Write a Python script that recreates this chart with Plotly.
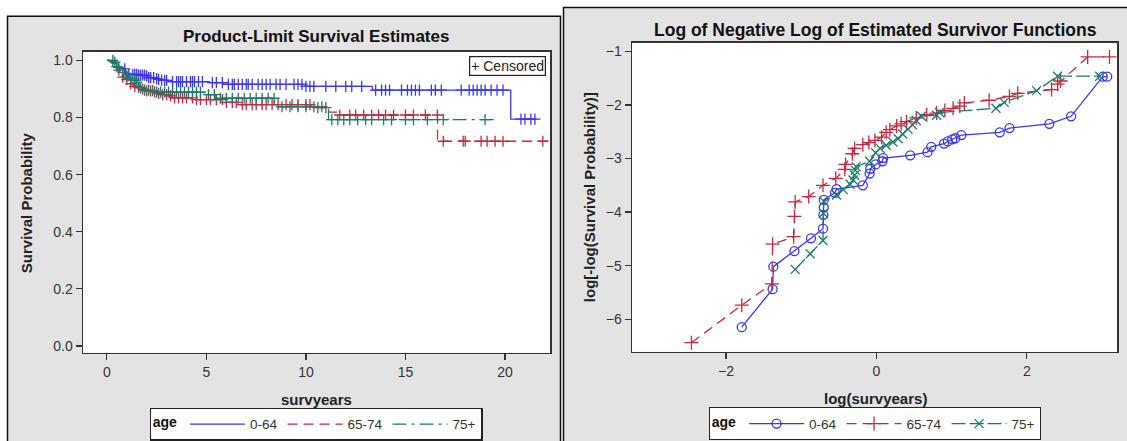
import numpy as np
import plotly.graph_objects as go

W, H = 1127, 441

# ---------------- data ----------------
groups = ["0-64", "65-74", "75+"]

# log(survyears) and log[-log(S)] at the event times, per age group
log_t_064 = [-1.79, -1.38, -1.37, -1.09, -0.87, -0.71, -0.705, -0.70, -0.70, -0.55, -0.53,
             -0.18, -0.09, -0.08, -0.01, 0.08, 0.09, 0.45, 0.68, 0.73, 0.90, 0.95, 1.01,
             1.05, 1.13, 1.64, 1.77, 2.30, 2.59, 3.01, 3.07]
loglog_064 = [-6.15, -5.44, -5.02, -4.73, -4.49, -4.31, -4.05, -3.91, -3.77, -3.64, -3.57,
              -3.50, -3.28, -3.19, -3.11, -3.05, -2.99, -2.94, -2.88, -2.78, -2.72, -2.68, -2.64,
              -2.62, -2.56, -2.51, -2.43, -2.35, -2.21, -1.47, -1.47]

log_t_6574 = [-2.46, -1.79, -1.39, -1.38, -1.10, -1.09, -1.08, -0.90, -0.71, -0.54, -0.42,
              -0.41, -0.32, -0.29, -0.18, -0.10, -0.02, 0.07, 0.13, 0.18, 0.27, 0.33, 0.40,
              0.53, 0.67, 0.80, 0.91, 1.02, 1.11, 1.17, 1.50, 1.77, 1.88, 2.33, 2.41, 2.45,
              2.81, 3.10]
loglog_6574 = [-6.44, -5.74, -5.34, -4.60, -4.46, -4.08, -3.81, -3.71, -3.50, -3.37, -3.20,
               -3.11, -2.91, -2.81, -2.74, -2.70, -2.66, -2.60, -2.51, -2.46, -2.39, -2.35, -2.31,
               -2.24, -2.18, -2.15, -2.10, -2.06, -2.02, -1.96, -1.91, -1.84, -1.78, -1.71, -1.61, -1.55,
               -1.10, -1.10]

log_t_75 = [-1.08, -0.88, -0.71, -0.705, -0.70, -0.53, -0.44, -0.35, -0.31, -0.29, -0.28,
            -0.27, -0.09, -0.01, 0.05, 0.13, 0.22, 0.29, 0.35, 0.42, 0.48, 0.53, 0.60,
            0.80, 0.84, 1.59, 1.70, 2.13, 2.41, 2.97]
loglog_75 = [-5.07, -4.78, -4.53, -4.02, -3.80, -3.68, -3.58, -3.48, -3.40, -3.31, -3.22,
             -3.15, -3.05, -2.89, -2.81, -2.75, -2.69, -2.63, -2.54, -2.45, -2.37, -2.29, -2.21,
             -2.19, -2.14, -2.06, -1.95, -1.73, -1.46, -1.46]

# censored survival times (years), per age group
cens_064 = [0.9, 1.1, 1.3, 1.4, 1.5, 1.6, 1.7, 1.8, 1.9, 2.0, 2.1, 2.2, 2.35, 2.5, 2.6, 2.75,
            2.9, 3.0, 3.3, 3.5, 3.6, 3.7, 3.8, 4.0, 4.2, 4.3, 4.4, 4.6, 4.8, 5.3, 5.5, 5.8,
            6.1, 6.3, 6.4, 6.6, 6.8, 7.0, 7.1, 7.3, 7.6, 7.8, 8.0, 8.2, 8.5, 8.7, 9.0, 9.4,
            9.6, 9.8, 10.0, 10.2, 10.4, 11.0, 11.5, 12.0, 12.3, 12.8, 13.5, 13.8, 14.0, 14.2,
            14.8, 15.1, 15.3, 15.5, 15.7, 16.3, 16.5, 16.8, 17.8, 18.2, 18.4, 18.6, 18.8, 19.0,
            19.3, 19.6, 19.9, 20.8, 21.0, 21.3, 21.5]
cens_6574 = [0.6, 0.8, 1.0, 1.2, 1.4, 1.6, 1.8, 2.0, 2.2, 2.4, 2.6, 2.8, 3.0, 3.2, 3.4, 3.6,
             3.8, 4.0, 4.3, 4.5, 4.7, 5.0, 5.2, 5.5, 5.8, 6.0, 6.3, 6.5, 6.8, 7.0, 7.3, 7.5,
             7.8, 8.0, 8.3, 8.6, 9.0, 9.3, 9.6, 10.0, 10.2, 10.6, 11.0, 11.7, 12.2, 12.5, 12.9,
             13.3, 13.65, 14.0, 14.4, 15.0, 15.4, 16.0, 16.6, 16.9, 17.9, 18.0, 18.8, 19.1,
             19.5, 19.9, 21.9]
cens_75 = [0.3, 0.4, 0.5, 0.6, 0.8, 1.0, 1.2, 1.4, 1.5, 1.7, 1.9, 2.1, 2.3, 2.5, 2.7, 2.9,
           3.1, 3.3, 3.5, 3.7, 3.9, 4.1, 4.3, 4.5, 4.7, 5.1, 5.4, 5.7, 6.0, 6.3, 6.6, 6.9,
           7.2, 7.5, 7.8, 8.1, 8.4, 8.8, 9.2, 9.6, 10.0, 10.4, 10.8, 11.3, 11.6, 11.9, 12.2,
           12.6, 13.0, 13.3, 13.9, 14.3, 15.0, 15.4, 16.1, 16.9, 19.0]

x1_ticks = [0, 5, 10, 15, 20]
y1_ticks = [0.0, 0.2, 0.4, 0.6, 0.8, 1.0]
x2_ticks = [-2, 0, 2]
y2_ticks = [-6, -5, -4, -3, -2, -1]

# ---------------- styling ----------------
FONT = "Liberation Sans, Arial, sans-serif"
colors = ["#3838ec", "#c42a40", "#1b7a68"]
left_dash = ["solid", "10px,6px", "14px,5px,3px,5px"]
right_dash = ["solid", "10px,6px", "14px,4px"]
right_sym = ["circle-open", "cross-thin-open", "x-thin-open"]
right_size = [9, 10, 9]

series_lt = [log_t_064, log_t_6574, log_t_75]
series_ll = [loglog_064, loglog_6574, loglog_75]
series_c = [cens_064, cens_6574, cens_75]

fig = go.Figure()

for i, g in enumerate(groups):
    lt = np.array(series_lt[i])
    ll = np.array(series_ll[i])
    t_ev = np.exp(lt)
    s_ev = np.exp(-np.exp(ll))
    tx = np.concatenate([[0.0], t_ev])
    sy = np.concatenate([[1.0], s_ev])
    # KM step curve
    fig.add_trace(go.Scatter(
        x=tx, y=sy, mode="lines", line=dict(color=colors[i], width=1.3, dash=left_dash[i], shape="hv"),
        name=g, legend="legend", xaxis="x", yaxis="y", hoverinfo="skip"))
    # censor marks
    c = np.array(series_c[i])
    idx = np.searchsorted(tx, c, side="right") - 1
    fig.add_trace(go.Scatter(
        x=c, y=sy[idx], mode="markers",
        marker=dict(symbol="cross-thin-open", size=8, color=colors[i],
                    line=dict(color=colors[i], width=1.3)),
        showlegend=False, xaxis="x", yaxis="y", hoverinfo="skip"))

for i, g in enumerate(groups):
    fig.add_trace(go.Scatter(
        x=series_lt[i], y=series_ll[i], mode="lines+markers",
        line=dict(color=colors[i], width=1.3, dash=right_dash[i]),
        marker=dict(symbol=right_sym[i], size=right_size[i], color=colors[i],
                    line=dict(color=colors[i], width=1.3)),
        name=g, legend="legend2", xaxis="x2", yaxis="y2", hoverinfo="skip"))

def px(v):
    return v / W

def py(v):
    return 1 - v / H

axis_common = dict(showline=True, mirror=True, linecolor="#333333", linewidth=1.5,
                   ticks="outside", ticklen=6, tickwidth=1.2, tickcolor="#333333",
                   showgrid=False, zeroline=False,
                   tickfont=dict(family=FONT, size=14, color="#333333"))

leg_common = dict(orientation="h", xanchor="center", yanchor="middle",
                  bgcolor="white", bordercolor="#222222", borderwidth=1.2,
                  font=dict(family=FONT, size=13.5, color="#333333"),
                  title=dict(text="<b>age</b>", side="left",
                             font=dict(family=FONT, size=14, color="#111111")),
                  itemwidth=55, tracegroupgap=0, itemclick=False)

fig.update_layout(
    width=W, height=H,
    margin=dict(l=0, r=0, t=0, b=0),
    paper_bgcolor="#e3e3e3",
    plot_bgcolor="white",
    font=dict(family=FONT, color="#222222"),
    xaxis=dict(domain=[px(83), px(550)], range=[-1.2, 22.26], tickvals=x1_ticks,
               anchor="y", **axis_common),
    yaxis=dict(domain=[py(356), py(52)], range=[-0.024, 1.031], tickvals=y1_ticks,
               tickformat=".1f", anchor="x", **axis_common),
    xaxis2=dict(domain=[px(632), px(1117)], range=[-3.25, 3.2], tickvals=x2_ticks,
                anchor="y2", **axis_common),
    yaxis2=dict(domain=[py(355), py(43)], range=[-6.61, -0.833], tickvals=y2_ticks,
                anchor="x2", **axis_common),
    legend=dict(x=px(316), y=py(428), **leg_common),
    legend2=dict(x=px(875), y=py(427.5), **leg_common),
    showlegend=True,
)

# white gaps around the two panels, and the panel borders
shapes = [
    dict(type="rect", xref="paper", yref="paper", x0=-0.1, x1=px(7), y0=-0.1, y1=1.1,
         fillcolor="white", line=dict(width=0), layer="below"),
    dict(type="rect", xref="paper", yref="paper", x0=-0.1, x1=px(563), y0=py(16), y1=1.1,
         fillcolor="white", line=dict(width=0), layer="below"),
    dict(type="rect", xref="paper", yref="paper", x0=px(561), x1=px(563), y0=-0.1, y1=1.1,
         fillcolor="white", line=dict(width=0), layer="below"),
    dict(type="rect", xref="paper", yref="paper", x0=px(561), x1=1.1, y0=py(7), y1=1.1,
         fillcolor="white", line=dict(width=0), layer="below"),
    dict(type="rect", xref="paper", yref="paper", x0=px(7.5), x1=px(560.5), y0=-0.1, y1=py(16.5),
         fillcolor="rgba(0,0,0,0)", line=dict(color="#111111", width=1.5), layer="below"),
    dict(type="rect", xref="paper", yref="paper", x0=px(563.5), x1=1.1, y0=-0.1, y1=py(7.5),
         fillcolor="rgba(0,0,0,0)", line=dict(color="#111111", width=1.5), layer="below"),
]
fig.update_layout(shapes=shapes)

ann = [
    dict(text="<b>Product-Limit Survival Estimates</b>", x=px(316), y=py(37), xref="paper", yref="paper",
         xanchor="center", yanchor="middle", showarrow=False,
         font=dict(family=FONT, size=17, color="#111111")),
    dict(text="<b>Log of Negative Log of Estimated Survivor Functions</b>", x=px(875), y=py(30),
         xref="paper", yref="paper", xanchor="center", yanchor="middle", showarrow=False,
         font=dict(family=FONT, size=17.5, color="#111111")),
    dict(text="<b>survyears</b>", x=px(316), y=py(403), xref="paper", yref="paper",
         xanchor="center", yanchor="middle", showarrow=False,
         font=dict(family=FONT, size=15, color="#222222")),
    dict(text="<b>log(survyears)</b>", x=px(875), y=py(402), xref="paper", yref="paper",
         xanchor="center", yanchor="middle", showarrow=False,
         font=dict(family=FONT, size=15, color="#222222")),
    dict(text="<b>Survival Probability</b>", x=px(26), y=py(205), xref="paper", yref="paper",
         xanchor="center", yanchor="middle", showarrow=False, textangle=-90,
         font=dict(family=FONT, size=15, color="#222222")),
    dict(text="<b>log[-log(Survival Probability)]</b>", x=px(589), y=py(199), xref="paper", yref="paper",
         xanchor="center", yanchor="middle", showarrow=False, textangle=-90,
         font=dict(family=FONT, size=15, color="#222222")),
    dict(text="+ Censored", x=px(546), y=py(57), xref="paper", yref="paper",
         xanchor="right", yanchor="top", showarrow=False,
         bgcolor="white", bordercolor="#222222", borderwidth=1.2, borderpad=1,
         font=dict(family=FONT, size=14, color="#222222")),
]
fig.update_layout(annotations=ann)

fig.write_html("out.html", config={"displayModeBar": False, "staticPlot": True},
               post_script="document.body.style.margin='0';document.body.style.overflow='hidden';")
